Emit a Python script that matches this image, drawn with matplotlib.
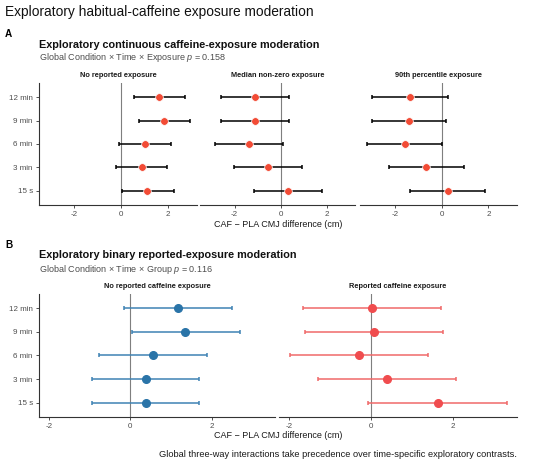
import numpy as np
import matplotlib
matplotlib.use("Agg")
import matplotlib.pyplot as plt

plt.rcParams['font.family'] = ['Liberation Sans', 'DejaVu Sans']
plt.rcParams['mathtext.fontset'] = 'custom'
plt.rcParams['mathtext.rm'] = 'Liberation Sans'
plt.rcParams['mathtext.it'] = 'Liberation Sans:italic'
plt.rcParams['axes.unicode_minus'] = False

times = ['15 s', '3 min', '6 min', '9 min', '12 min']

# Panel A: continuous exposure (estimate, lower, upper) per time
facets_a = ['No reported exposure', 'Median non-zero exposure', '90th percentile exposure']
est_a = [
    [1.11, 0.86, 1.00, 1.81, 1.60],
    [0.33, -0.56, -1.39, -1.13, -1.11],
    [0.26, -0.67, -1.59, -1.39, -1.36],
]
lo_a = [
    [0.03, -0.23, -0.10, 0.74, 0.53],
    [-1.14, -2.03, -2.84, -2.61, -2.60],
    [-1.36, -2.28, -3.20, -3.00, -2.98],
]
hi_a = [
    [2.23, 1.96, 2.10, 2.93, 2.69],
    [1.81, 0.93, 0.11, 0.36, 0.37],
    [1.87, 0.95, 0.03, 0.20, 0.26],
]

# Panel B: binary reported exposure
facets_b = ['No reported caffeine exposure', 'Reported caffeine exposure']
est_b = [
    [0.39, 0.39, 0.56, 1.36, 1.17],
    [1.63, 0.39, -0.30, 0.08, 0.02],
]
lo_b = [
    [-0.94, -0.94, -0.76, 0.04, -0.15],
    [-0.06, -1.29, -1.98, -1.60, -1.66],
]
hi_b = [
    [1.70, 1.70, 1.89, 2.69, 2.50],
    [3.32, 2.08, 1.39, 1.76, 1.71],
]

W, H = 550, 465
fig = plt.figure(figsize=(W / 100, H / 100), dpi=100)


def px_axes(x0, x1, y0, y1):
    return fig.add_axes([x0 / W, 1 - y1 / H, (x1 - x0) / W, (y1 - y0) / H])


def style_ax(ax, first, xlim, title):
    ax.set_xlim(*xlim)
    ax.set_ylim(0.4, 5.6)
    for s in ['top', 'right']:
        ax.spines[s].set_visible(False)
    ax.spines['bottom'].set_color('#333333')
    ax.spines['bottom'].set_linewidth(0.8)
    ax.spines['left'].set_color('#333333')
    ax.spines['left'].set_linewidth(0.8)
    ax.set_xticks([-2, 0, 2])
    ax.tick_params(axis='both', labelsize=5.8, labelcolor='#4D4D4D', color='#333333',
                   length=2.5, width=0.6, pad=2)
    ax.set_yticks(range(1, 6))
    if first:
        ax.set_yticklabels(times)
    else:
        ax.spines['left'].set_visible(False)
        ax.tick_params(axis='y', left=False, labelleft=False)
    ax.axvline(0, color='#7F7F7F', lw=0.8, zorder=1)
    ax.set_title(title, fontsize=5.3, fontweight='bold', color='#1A1A1A', pad=4)
    ax.patch.set_alpha(0)


ypos = np.arange(1, 6)

# ---- Panel A
xlim_a = (-3.5, 3.22)
bounds_a = [(39, 197), (200, 355), (360, 517)]
for i, (x0, x1) in enumerate(bounds_a):
    ax = px_axes(x0, x1, 83, 205)
    style_ax(ax, i == 0, xlim_a, facets_a[i])
    e = np.array(est_a[i])
    err = [e - np.array(lo_a[i]), np.array(hi_a[i]) - e]
    ax.errorbar(e, ypos, xerr=err, fmt='none', ecolor='black', elinewidth=1.1,
                capsize=1.3, capthick=1.1, zorder=2)
    ax.plot(e, ypos, 'o', color='#F24B35', markersize=5.5, markeredgecolor='white',
            markeredgewidth=0.5, zorder=3)

# ---- Panel B
xlim_b = (-2.24, 3.56)
bounds_b = [(39, 275), (279, 517)]
cols_pt = ['#2A74A8', '#F04C4E']
cols_bar = ['#3F83B4', '#F06A6A']
for i, (x0, x1) in enumerate(bounds_b):
    ax = px_axes(x0, x1, 294, 417)
    style_ax(ax, i == 0, xlim_b, facets_b[i])
    e = np.array(est_b[i])
    err = [e - np.array(lo_b[i]), np.array(hi_b[i]) - e]
    ax.errorbar(e, ypos, xerr=err, fmt='none', ecolor=cols_bar[i], elinewidth=1.1,
                capsize=1.3, capthick=1.1, zorder=2)
    ax.plot(e, ypos, 'o', color=cols_pt[i], markersize=5.5, zorder=3)

# ---- Texts
def ftext(px, py, s, **kw):
    fig.text(px / W, 1 - py / H, s, **kw)

ftext(5, 12, 'Exploratory habitual-caffeine exposure moderation', fontsize=9.9,
      va='center', color='#111111')

ftext(5, 34, 'A', fontsize=7.2, fontweight='bold', va='center')
ftext(39, 44.5, 'Exploratory continuous caffeine-exposure moderation', fontsize=7.85,
      fontweight='bold', va='center', color='#111111')
ftext(39, 58, r'Global Condition × Time × Exposure $p$ = 0.158', fontsize=6.5,
      va='center', color='#4D4D4D')
ftext(278, 224, 'CAF − PLA CMJ difference (cm)', fontsize=6.5, ha='center',
      va='center', color='#1A1A1A')

ftext(5, 245, 'B', fontsize=7.2, fontweight='bold', va='center')
ftext(39, 254.5, 'Exploratory binary reported-exposure moderation', fontsize=7.85,
      fontweight='bold', va='center', color='#111111')
ftext(39, 269, r'Global Condition × Time × Group $p$ = 0.116', fontsize=6.5,
      va='center', color='#4D4D4D')
ftext(278, 435, 'CAF − PLA CMJ difference (cm)', fontsize=6.5, ha='center',
      va='center', color='#1A1A1A')

ftext(517, 454, 'Global three-way interactions take precedence over time-specific exploratory contrasts.',
      fontsize=6.7, ha='right', va='center', color='#1A1A1A')

fig.savefig('out.png', dpi=100)
